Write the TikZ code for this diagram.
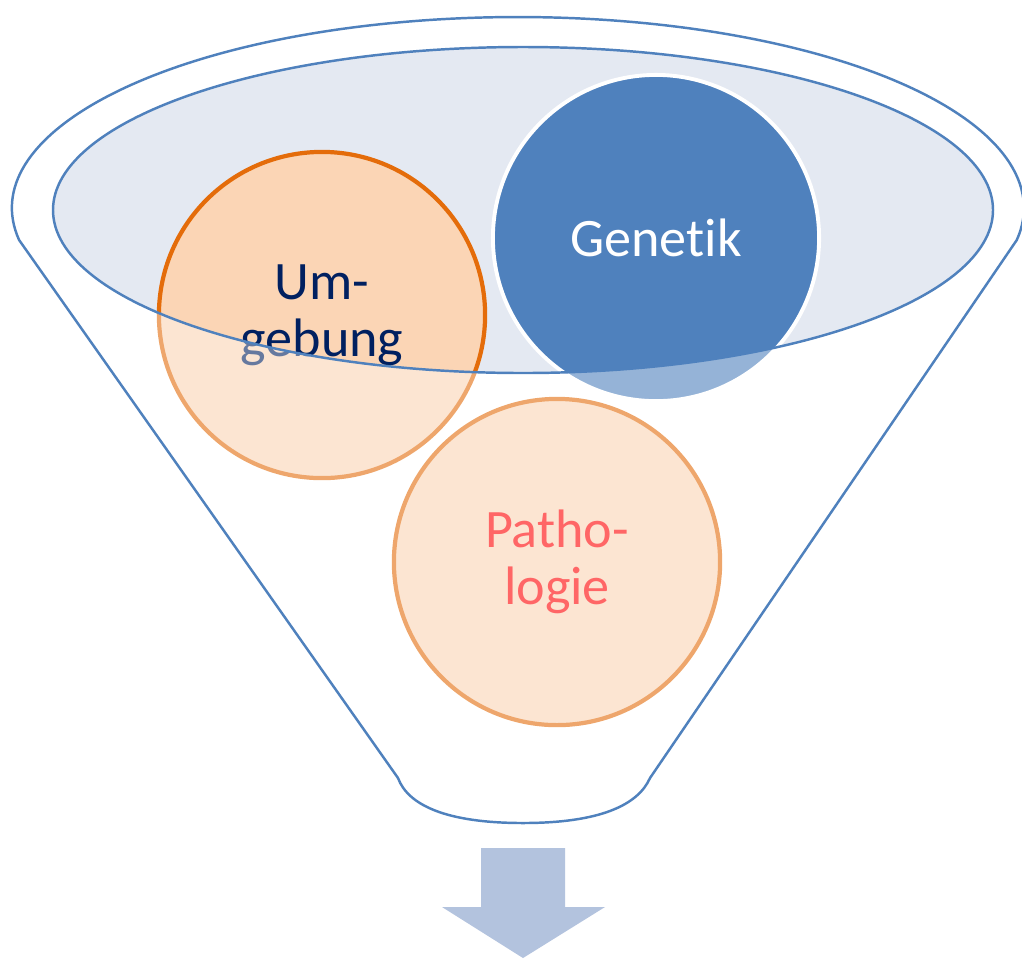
\documentclass[tikz,border=0pt]{standalone}
\usepackage{fontspec}
\setmainfont[Ligatures=NoCommon]{Carlito}
\definecolor{accblue}{HTML}{4F81BD}
\definecolor{bowlfill}{HTML}{E4E9F2}
\definecolor{accorange}{HTML}{E46C0A}
\definecolor{peach}{HTML}{FBD5B5}
\definecolor{navytext}{HTML}{002060}
\definecolor{arrowblue}{HTML}{B3C3DE}

\begin{document}
\begin{tikzpicture}[x=0.01cm, y=-0.01cm, env node/.style={circle, fill=peach, draw=accorange, line width=1.2pt, minimum size=3.26cm, inner sep=0pt, align=center, text=navytext, font=\fontsize{15.4}{16.3}\selectfont}, gen node/.style={env node, fill=accblue, draw=white, line width=1.1pt, text=white}, patho node/.style={env node, text=red}, funnel line/.style={draw=accblue, line width=0.7pt}]
\useasboundingbox (0,0) rectangle (1022,960);

% bowl
\fill[bowlfill] (523,210) ellipse [x radius=470, y radius=163];

% circles
\node[env node] (n0) at (322,315) {\raisebox{-0.04cm}{Um-}\\\raisebox{-0.04cm}{gebung}};
\node[gen node] (n1) at (656,238) {Genetik};
\node[patho node] (n2) at (557,562) {Patho-\\logie};

% fade outside the bowl
\fill[white, fill opacity=0.4, even odd rule] (0,0) rectangle (1022,960) (523,210) ellipse [x radius=470, y radius=163];

% outline
\draw[funnel line] (523,210) ellipse [x radius=470, y radius=163];

\coordinate (tl) at (19.1,240);
\coordinate (br) at (650,778);
\coordinate (bl) at (398,778);
\coordinate (bm) at (523,823);
\draw[funnel line] (tl) arc [start angle=170.36, end angle=369.64, x radius=506, y radius=191]
  -- (br) .. controls (638,805) and (600,823) .. (bm)
  .. controls (446,823) and (408,805) .. (bl) -- cycle;

% out arrow
\fill[arrowblue] (481,848) -- (565,848) -- (565,907) -- (605,907) -- (523,958) -- (442,907) -- (481,907) -- cycle;

\end{tikzpicture}
\end{document}
